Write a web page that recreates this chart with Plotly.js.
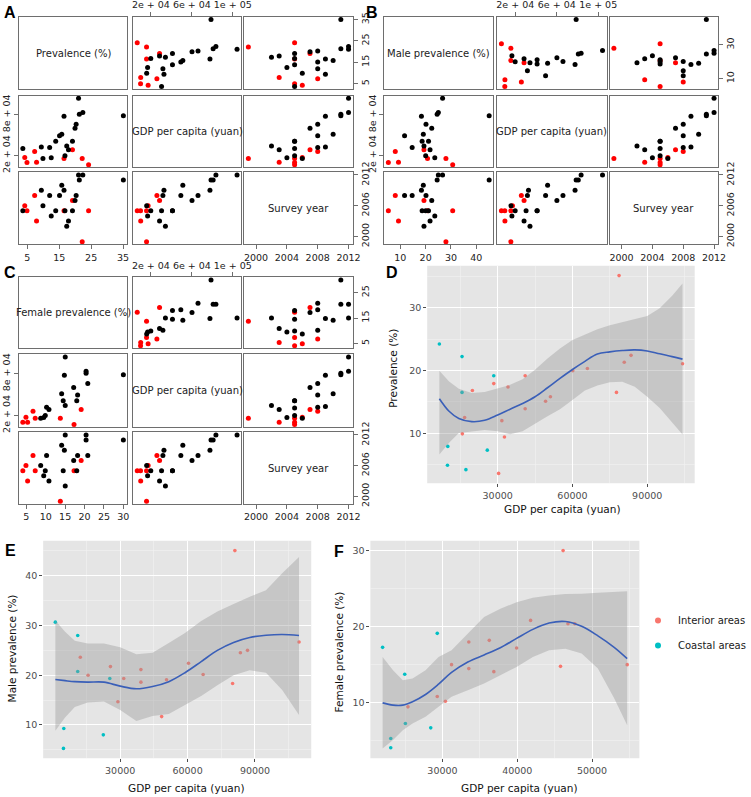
<!DOCTYPE html>
<html><head><meta charset="utf-8">
<script src="https://cdn.plot.ly/plotly-3.0.1.min.js"></script>
<style>html,body{margin:0;padding:0;background:#fff}#chart{width:751px;height:797px}</style>
</head><body><div id="chart"></div>
<script>
// ---------------- DATA ----------------
const area = ['Coastal','Coastal','Coastal','Coastal','Coastal','Coastal','Coastal','Coastal',
  'Interior','Interior','Interior','Interior','Interior','Interior','Interior','Interior','Interior','Interior',
  'Interior','Interior','Interior','Interior','Interior','Interior','Interior','Interior','Interior'];
const gdp = [6623, 9870, 10000, 15714, 15714, 17270, 25844, 28442,
  15840, 16750, 19870, 28440, 30390, 31690, 32730, 34156, 41040, 41040, 49220, 51170, 60130, 66000, 77660, 78700, 80780, 83500, 104150];
const prevalence = [24.2, 4.9, 7.9, 22.2, 16.5, 4.2, 7.3, 19.15,
  9.9, 12.5, 16.8, 17.9, 3.6, 12.0, 9.4, 17.35, 19.15, 13.9, 15.1, 15.8, 19.95, 20.3, 16.5, 35.1, 21.3, 22.4, 21.05];
const malePrev = [30.67, 5.27, 9.27, 28.0, 20.73, null, 8.0, 19.33,
  null, 23.6, 20.0, 21.73, null, 14.67, null, 19.33, 21.13, 18.6, 11.67, 19.07, 22.4, 20.13, 18.33, 45.07, 24.53, 25.0, 26.67];
const femalePrev = [17.29, 4.1, 5.33, 13.76, 7.29, 4.9, 6.72, 19.13,
  8.7, 9.48, 9.88, 10.83, null, 10.22, null, 15.02, 17.99, 14.5, 18.21, 14.1, 17.2, 20.83, 14.8, 30.0, 20.39, 20.39, 15.02];
const surveyYear = [2005, 2005, 2003, 1999, 2005, 2006, 2008, 2007,
  2006, 2004, 2005, 2003, 2005, 2008, 2009, 2002, 2005, 2005, 2008, 2010, 2007, 2008, 2009, 2011, 2011, 2012, 2012];
const gdpE = [1160, 4765, 4910, 11110, 11110, null, 22500, 25385,
  null, 12260, 15720, 25670, null, 28990, null, 31590, 39230, 39230, 48460, 50620, 60430, 66920, 80040, 81050, 83500, 86670, 109600];
const gdpF = [22000, 23087, 23087, 24957, 25043, null, 28435, 29304,
  null, 25391, null, 29304, null, 30391, null, 31217, 33522, 33522, 36261, 36870, 39913, 41783, 45783, 46130, 46783, 47696, 54696];

// smoothed fits
const fitD_x = [6623, 10520, 14420, 19610, 24800, 30000, 35000, 40000, 45000, 50000, 55000, 60000, 65000, 70000, 75000, 80000, 85000, 90000, 95000, 100000, 104150];
const fitD_y = [15.5, 13.5, 12.35, 11.85, 12.06, 12.9, 13.83, 14.73, 15.8, 17.24, 18.73, 20.15, 21.45, 22.6, 22.95, 23.17, 23.27, 23.1, 22.64, 22.2, 21.8];
const fitD_lo = [6.6, 8.47, 10.05, 10.3, 10.5, 10.3, 9.85, 10.3, 11.5, 12.7, 13.8, 15.3, 16.8, 17.6, 18.1, 18.2, 17.4, 15.8, 14.0, 11.7, 9.8];
const fitD_hi = [19.95, 18.25, 17.1, 16.4, 16.56, 17.2, 17.7, 18.6, 20.1, 21.9, 23.5, 24.85, 25.75, 26.55, 27.2, 27.7, 28.1, 28.65, 29.9, 31.9, 33.86];

const fitE_x = [1160, 5490, 9810, 15580, 22790, 30000, 37210, 44420, 51630, 58840, 66050, 73260, 80470, 87680, 94890, 102100, 109600];
const fitE_y = [19.13, 18.9, 18.7, 18.6, 18.6, 17.8, 17.27, 17.73, 18.7, 20.5, 22.73, 25.0, 26.6, 27.6, 28.05, 28.2, 28.0];
const fitE_lo = [8.8, 11.5, 13.6, 14.5, 14.7, 13.0, 10.8, 11.8, 12.2, 14.0, 15.8, 18.0, 20.0, 21.0, 20.5, 17.0, 12.0];
const fitE_hi = [31.0, 28.73, 26.93, 26.4, 26.4, 25.6, 24.2, 24.5, 26.5, 28.5, 30.9, 32.8, 34.3, 35.8, 37.07, 40.5, 43.8];

const fitF_x = [22000, 23391, 24696, 26000, 27739, 29478, 31217, 33391, 35565, 37739, 39913, 42087, 44261, 46435, 48609, 50783, 52957, 54696];
const fitF_y = [10.0, 9.7, 9.7, 10.15, 11.1, 12.45, 14.0, 15.37, 16.29, 17.25, 18.47, 19.65, 20.48, 20.68, 20.05, 18.8, 17.3, 15.81];
const fitF_lo = [4.02, 5.11, 6.42, 7.29, 8.17, 9.48, 10.79, 11.66, 12.53, 13.62, 14.72, 16.03, 16.9, 17.1, 16.5, 14.5, 10.6, 7.07];
const fitF_hi = [16.03, 14.28, 12.97, 13.19, 14.28, 16.03, 16.9, 19.08, 21.27, 22.36, 23.23, 23.8, 24.1, 24.3, 24.32, 24.45, 24.6, 24.67];

// tick labels
const prevTicksBottom = [5, 15, 25, 35];
const prevTicksRight = [5, 15, 25, 35];
const maleTicksBottom = [10, 20, 30, 40];
const maleTicksRight = [10, 30];
const femaleTicksBottom = [5, 10, 15, 20, 25, 30];
const femaleTicksRight = [5, 15, 25];
const gdpTicksTop = [20000, 60000, 100000];
const gdpTicksTopText = ['2e + 04', '6e + 04', '1e + 05'];
const gdpTicksLeft = [20000, 80000];
const gdpTicksLeftText = ['2e + 04', '8e + 04'];
const yearTicksBottom = [2000, 2004, 2008, 2012];
const yearTicksRight = [2000, 2006, 2012];
const ggTicksX_D = [30000, 60000, 90000], ggMinorX_D = [15000, 45000, 75000, 105000];
const ggTicksY_D = [10, 20, 30], ggMinorY_D = [5, 15, 25, 35];
const ggTicksX_E = [30000, 60000, 90000], ggMinorX_E = [15000, 45000, 75000, 105000];
const ggTicksY_E = [10, 20, 30, 40], ggMinorY_E = [5, 15, 25, 35, 45];
const ggTicksX_F = [30000, 40000, 50000], ggMinorX_F = [25000, 35000, 45000, 55000];
const ggTicksY_F = [10, 20, 30], ggMinorY_F = [5, 15, 25];
const legendNames = ['Interior areas', 'Coastal areas'];

// ---------------- LAYOUT HELPERS ----------------
const W = 751, H = 797;
const FONT = 'DejaVu Sans, Verdana, sans-serif';
const layout = {width: W, height: H, margin: {l: 0, r: 0, t: 0, b: 0},
  paper_bgcolor: '#fff', plot_bgcolor: 'rgba(0,0,0,0)', annotations: [], shapes: [],
  showlegend: true, font: {family: FONT}};
const traces = [];
let axN = 0;
function newAxes(xd, yd, xopt, yopt) {
  axN++;
  const s = axN === 1 ? '' : String(axN);
  layout['xaxis' + s] = Object.assign({domain: [xd[0] / W, xd[1] / W], anchor: 'y' + s}, xopt);
  layout['yaxis' + s] = Object.assign({domain: [1 - yd[1] / H, 1 - yd[0] / H], anchor: 'x' + s}, yopt);
  return {x: 'x' + s, y: 'y' + s};
}
function ann(text, px, py, opt) {
  layout.annotations.push(Object.assign({text: text, xref: 'paper', yref: 'paper', x: px / W, y: 1 - py / H,
    showarrow: false, xanchor: 'center', yanchor: 'middle', font: {family: FONT, size: 10, color: '#222'}}, opt || {}));
}
function rng(arrs, pad) {
  let lo = Infinity, hi = -Infinity;
  arrs.forEach(a => a.forEach(v => { if (v !== null && v !== undefined) { lo = Math.min(lo, v); hi = Math.max(hi, v); } }));
  const d = hi - lo;
  return [lo - pad * d, hi + pad * d];
}

// ---------------- SCATTERPLOT MATRICES ----------------
const mBase = {showline: true, mirror: true, linecolor: '#6e6e6e', linewidth: 1, showgrid: false, zeroline: false,
  ticks: '', showticklabels: false, fixedrange: true};
function tickOpt(vals, text, extra) {
  return Object.assign({ticks: 'outside', ticklen: 4, tickwidth: 1, tickcolor: '#6e6e6e', showticklabels: true,
    tickmode: 'array', tickvals: vals, ticktext: text || vals.map(String),
    tickfont: {family: FONT, size: 9.5, color: '#222'}}, extra || {});
}
const ptColors = area.map(a => a === 'Coastal' ? '#ff0000' : '#000000');
const matrixPanels = [
  {letter: 'A', v: prevalence, name: 'Prevalence (%)', cols: [[19.3, 130.7], [136.7, 247.3], [250.7, 361.7]],
    rows: [[16.7, 89.3], [95.7, 167.3], [172.3, 244.3]], tb: prevTicksBottom, tr: prevTicksRight, lp: [10.5, 12.5]},
  {letter: 'B', v: malePrev, name: 'Male prevalence (%)', cols: [[394.3, 506], [510.3, 622.3], [625.7, 736.7]],
    rows: [[16.7, 89.3], [95.7, 167.3], [172.3, 244.3]], tb: maleTicksBottom, tr: maleTicksRight, lp: [381.5, 12.5]},
  {letter: 'C', v: femalePrev, name: 'Female prevalence (%)', cols: [[19.3, 130.7], [136.7, 247.3], [250.7, 361.7]],
    rows: [[277.3, 348.3], [354.3, 427.3], [432.3, 504]], tb: femaleTicksBottom, tr: femaleTicksRight, lp: [10.5, 272]}
];
matrixPanels.forEach(P => {
  const vars = [P.v, gdp, surveyYear];
  const names = [P.name, 'GDP per capita (yuan)', 'Survey year'];
  const ranges = vars.map(v => rng([v], 0.04));
  for (let r = 0; r < 3; r++) {
    for (let c = 0; c < 3; c++) {
      let xo = Object.assign({}, mBase, {range: ranges[c]});
      let yo = Object.assign({}, mBase, {range: ranges[r]});
      if (r === 2 && c === 0) Object.assign(xo, tickOpt(P.tb, null, {side: 'bottom'}));
      if (r === 0 && c === 1) Object.assign(xo, tickOpt(gdpTicksTop, gdpTicksTopText, {side: 'top'}));
      if (r === 2 && c === 2) {
        Object.assign(xo, tickOpt(yearTicksBottom, null, {side: 'bottom'}));
        Object.assign(yo, tickOpt(yearTicksRight, null, {side: 'right', tickangle: -90}));
      }
      if (r === 1 && c === 0) Object.assign(yo, tickOpt(gdpTicksLeft, gdpTicksLeftText, {side: 'left', tickangle: -90}));
      if (r === 0 && c === 2) Object.assign(yo, tickOpt(P.tr, null, {side: 'right', tickangle: -90}));
      const ax = newAxes(P.cols[c], P.rows[r], xo, yo);
      if (r !== c) {
        traces.push({type: 'scatter', mode: 'markers', x: vars[c], y: vars[r], xaxis: ax.x, yaxis: ax.y,
          marker: {size: 5, color: ptColors}, showlegend: false, hoverinfo: 'skip', cliponaxis: false});
      } else {
        // empty trace so the diagonal box and its axes are drawn
        traces.push({type: 'scatter', mode: 'markers', x: [null], y: [null], xaxis: ax.x, yaxis: ax.y,
          showlegend: false, hoverinfo: 'skip'});
        ann(names[r], (P.cols[c][0] + P.cols[c][1]) / 2, (P.rows[r][0] + P.rows[r][1]) / 2,
          {font: {family: FONT, size: 10, color: '#222'}});
      }
    }
  }
  ann('<b>' + P.letter + '</b>', P.lp[0], P.lp[1], {font: {family: 'Liberation Sans, Arial, sans-serif', size: 16, color: '#000'}});
});

// ---------------- GGPLOT-STYLE PANELS ----------------
const ggTickFont = {family: FONT, size: 9.5, color: '#4d4d4d'};
function ggPanel(P) {
  const xr = rng([P.xs, P.fx], 0.05), yr = rng([P.ys, P.flo, P.fhi], 0.05);
  const base = {showline: false, zeroline: false, showgrid: true, gridcolor: '#ffffff', gridwidth: 1,
    ticks: 'outside', ticklen: 3, tickcolor: '#4d4d4d', tickfont: ggTickFont, tickmode: 'array', fixedrange: true};
  const xo = Object.assign({}, base, {range: xr, tickvals: P.tx, ticktext: P.tx.map(String),
    minor: {tickvals: P.mx, showgrid: true, gridcolor: '#f2f2f2', gridwidth: 0.6, ticks: ''}});
  const yo = Object.assign({}, base, {range: yr, tickvals: P.ty, ticktext: P.ty.map(String),
    minor: {tickvals: P.my, showgrid: true, gridcolor: '#f2f2f2', gridwidth: 0.6, ticks: ''}});
  const ax = newAxes(P.xd, P.yd, xo, yo);
  const dom = ax.x + ' domain', domy = ax.y + ' domain';
  layout.shapes.push({type: 'rect', xref: dom, yref: domy, x0: 0, x1: 1, y0: 0, y1: 1,
    fillcolor: '#e5e5e5', line: {width: 0}, layer: 'below'});
  const groups = [['Interior', '#F8766D'], ['Coastal', '#00BFC4']];
  groups.forEach(g => {
    const xs = [], ys = [];
    P.xs.forEach((v, i) => { if (area[i] === g[0] && v !== null && P.ys[i] !== null) { xs.push(v); ys.push(P.ys[i]); } });
    traces.push({type: 'scatter', mode: 'markers', x: xs, y: ys, xaxis: ax.x, yaxis: ax.y,
      marker: {size: 3.6, color: g[1]}, showlegend: false, hoverinfo: 'skip'});
  });
  traces.push({type: 'scatter', mode: 'lines', x: P.fx.concat(P.fx.slice().reverse()),
    y: P.fhi.concat(P.flo.slice().reverse()), fill: 'toself', fillcolor: 'rgba(153,153,153,0.4)',
    line: {width: 0, color: 'rgba(0,0,0,0)'}, xaxis: ax.x, yaxis: ax.y, showlegend: false, hoverinfo: 'skip'});
  traces.push({type: 'scatter', mode: 'lines', x: P.fx, y: P.fy, line: {color: '#3a5fb8', width: 1.6, shape: 'spline'},
    xaxis: ax.x, yaxis: ax.y, showlegend: false, hoverinfo: 'skip'});
  ann('GDP per capita (yuan)', P.xt[0], P.xt[1], {font: {family: FONT, size: 10.5, color: '#111'}});
  ann(P.ytitle, P.yt[0], P.yt[1], {textangle: -90, font: {family: FONT, size: 10.5, color: '#111'}});
  ann('<b>' + P.letter + '</b>', P.lp[0], P.lp[1], {font: {family: 'Liberation Sans, Arial, sans-serif', size: 16, color: '#000'}});
  return ax;
}
ggPanel({letter: 'D', xs: gdp, ys: prevalence, fx: fitD_x, fy: fitD_y, flo: fitD_lo, fhi: fitD_hi,
  tx: ggTicksX_D, mx: ggMinorX_D, ty: ggTicksY_D, my: ggMinorY_D, xd: [438.3, 712.7], yd: [265.7, 483.3],
  xt: [577, 509], yt: [403, 368], ytitle: 'Prevalence (%)', lp: [402, 272]});
ggPanel({letter: 'E', xs: gdpE, ys: malePrev, fx: fitE_x, fy: fitE_y, flo: fitE_lo, fhi: fitE_hi,
  tx: ggTicksX_E, mx: ggMinorX_E, ty: ggTicksY_E, my: ggMinorY_E, xd: [44.3, 319.3], yd: [540.7, 758.3],
  xt: [191, 788], yt: [12.7, 648], ytitle: 'Male prevalence (%)', lp: [10.5, 550]});
const axF = ggPanel({letter: 'F', xs: gdpF, ys: femalePrev, fx: fitF_x, fy: fitF_y, flo: fitF_lo, fhi: fitF_hi,
  tx: ggTicksX_F, mx: ggMinorX_F, ty: ggTicksY_F, my: ggMinorY_F, xd: [380, 656], yd: [540.7, 758.3],
  xt: [533, 788], yt: [348.3, 652], ytitle: 'Female prevalence (%)', lp: [348, 551]});

// legend entries
[[legendNames[0], '#F8766D'], [legendNames[1], '#00BFC4']].forEach((g, i) => {
  traces.push({type: 'scatter', mode: 'markers', x: [null], y: [null], xaxis: axF.x, yaxis: axF.y,
    name: g[0], legendgroup: 'g' + i, marker: {size: 6, color: g[1]}, showlegend: true, hoverinfo: 'skip'});
});
layout.legend = {x: 655 / W, y: 1 - 606 / H, xanchor: 'left', yanchor: 'top', bgcolor: 'rgba(0,0,0,0)',
  font: {family: FONT, size: 10, color: '#1a1a1a'}, tracegroupgap: 6, itemwidth: 30, traceorder: 'grouped'};

Plotly.newPlot('chart', traces, layout, {staticPlot: true, displayModeBar: false});
</script>
</body></html>
